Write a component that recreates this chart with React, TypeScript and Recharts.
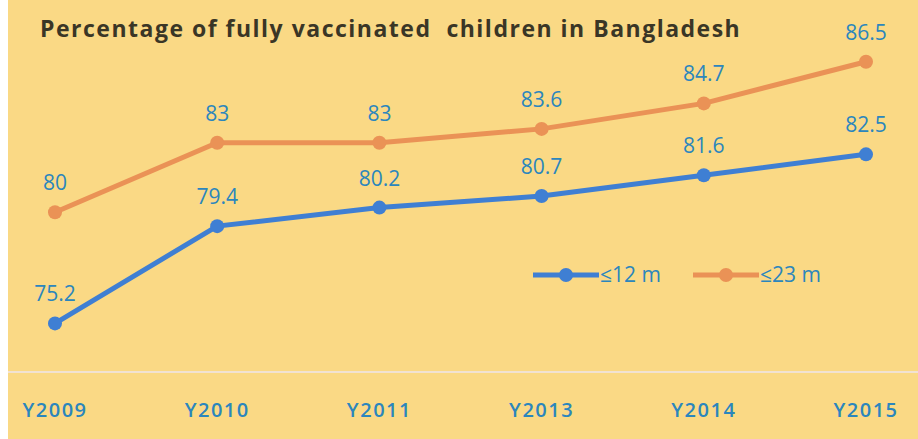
import React from "react";
import { LabelList, Line, LineChart, XAxis, YAxis } from "recharts";

const years = ["Y2009", "Y2010", "Y2011", "Y2013", "Y2014", "Y2015"];
const upTo12m = [75.2, 79.4, 80.2, 80.7, 81.6, 82.5];
const upTo23m = [80, 83, 83, 83.6, 84.7, 86.5];
const seriesNames = ["≤12 m", "≤23 m"];

const data = years.map((year, i) => ({ year, m12: upTo12m[i], m23: upTo23m[i] }));

const BG = "#FAD985";
const BLUE = "#3F7FD3";
const ORANGE = "#EA9256";
const TEXT_BLUE = "#2B86BD";
const FONT = "'Open Sans', sans-serif";

function SeriesKey() {
  const colors = [BLUE, ORANGE];
  return (
    <svg width={320} height={30} style={{ position: "absolute", left: 525, top: 260 }}>
      {seriesNames.map((name, i) => {
        const x0 = i * 160;
        return (
          <g key={name}>
            <line x1={x0} y1={15} x2={x0 + 66} y2={15} stroke={colors[i]} strokeWidth={5} />
            <circle cx={x0 + 33} cy={15} r={7} fill={colors[i]} />
            <text x={x0 + 67} y={22} fill={TEXT_BLUE} fontSize={21} fontFamily={FONT}>
              {name}
            </text>
          </g>
        );
      })}
    </svg>
  );
}

export default function App() {
  return (
    <div
      style={{
        position: "absolute",
        left: 8,
        top: 0,
        width: 910,
        height: 439,
        background: BG,
        fontFamily: FONT,
      }}
    >
      <div
        style={{
          position: "absolute",
          left: 32,
          top: 12,
          fontSize: 23,
          fontWeight: 700,
          letterSpacing: 1.5,
          color: "#3A3626",
          whiteSpace: "pre",
        }}
      >
        {"Percentage of fully vaccinated  children in Bangladesh"}
      </div>
      <LineChart width={910} height={439} data={data} margin={{ top: 27, right: 0, left: 0, bottom: 0 }}>
        <XAxis
          dataKey="year"
          height={67}
          padding={{ left: 47, right: 52 }}
          axisLine={{ stroke: "#F1E2D2", strokeWidth: 2 }}
          tickLine={false}
          tickMargin={25}
          tick={{ fill: TEXT_BLUE, fontSize: 20, fontWeight: 600, fontFamily: FONT, letterSpacing: 1.5 }}
        />
        <YAxis hide domain={[73.1, 88]} />
        <Line
          dataKey="m12"
          name={seriesNames[0]}
          stroke={BLUE}
          strokeWidth={5}
          dot={{ r: 7, fill: BLUE, stroke: BLUE, strokeWidth: 0 }}
          isAnimationActive={false}
        >
          <LabelList dataKey="m12" position="top" offset={22} fill={TEXT_BLUE} fontSize={21} fontFamily={FONT} />
        </Line>
        <Line
          dataKey="m23"
          name={seriesNames[1]}
          stroke={ORANGE}
          strokeWidth={5}
          dot={{ r: 7, fill: ORANGE, stroke: ORANGE, strokeWidth: 0 }}
          isAnimationActive={false}
        >
          <LabelList dataKey="m23" position="top" offset={22} fill={TEXT_BLUE} fontSize={21} fontFamily={FONT} />
        </Line>
      </LineChart>
      <SeriesKey />
    </div>
  );
}
